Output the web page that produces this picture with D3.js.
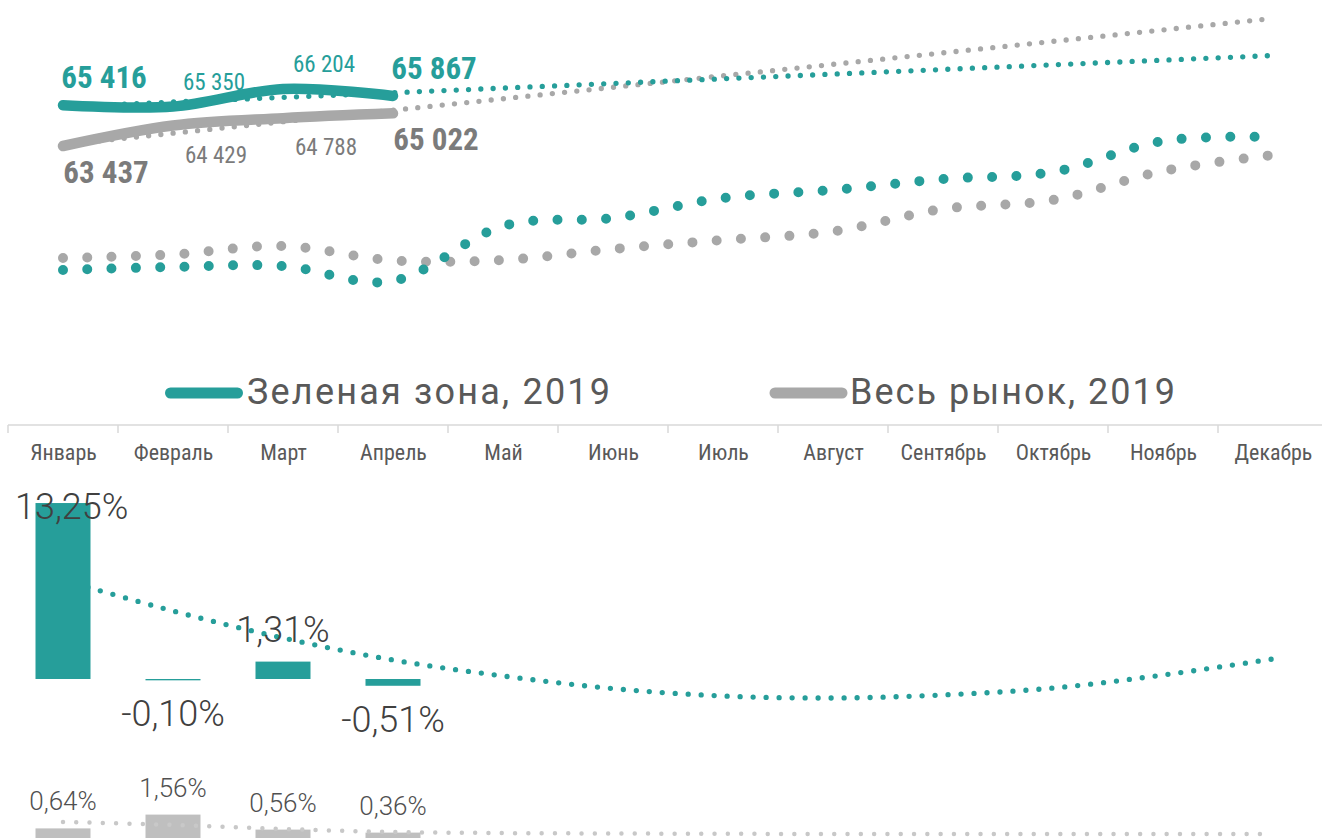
<!DOCTYPE html>
<html><head><meta charset="utf-8">
<script src="https://cdn.jsdelivr.net/npm/d3@7"></script>
<style>body{margin:0;background:#fff}svg{display:block}</style>
</head><body><svg id="chart" width="1322" height="840"></svg>
<script>
// ---------- data ----------
const months = ["Январь","Февраль","Март","Апрель","Май","Июнь","Июль","Август","Сентябрь","Октябрь","Ноябрь","Декабрь"];
const seriesNames = ["Зеленая зона, 2019","Весь рынок, 2019"];
const greenPrice = [65416, 65350, 66204, 65867];
const marketPrice = [63437, 64429, 64788, 65022];
const greenPriceTrend = [65345, 67830];   // Январь, Декабрь
const marketPriceTrend = [63500, 69631];  // Январь, Декабрь
const greenIndex = [20, 21.5, 22, 14.5, 42, 46, 56, 60, 65.5, 69, 84.5, 86.5];
const marketIndex = [26, 27.75, 32, 24.75, 25, 30.5, 35, 39.25, 50.5, 55, 69.5, 77.5];
const greenChange = [13.25, -0.10, 1.31, -0.51];
const marketChange = [0.64, 1.56, 0.56, 0.36];
const greenChangeTrend = [7.45, 5.12, 3.09, 1.43, 0.23, -0.72, -1.28, -1.43, -1.2, -0.68, 0.30, 1.51];
const marketChangeTrend = [1.07, 0.87, 0.6, 0.4, 0.33, 0.3, 0.28, 0.27, 0.27, 0.27, 0.27, 0.27];

// ---------- setup ----------
const TEAL = "#269E9A", GRAY = "#A8A8A8", BARGRAY = "#BFBFBF";
const NARROW = "'Liberation Sans Narrow','Roboto Condensed','DejaVu Sans Condensed','Liberation Sans',sans-serif";
const svg = d3.select("#chart");
const loc = d3.formatLocale({decimal: ",", thousands: " ", grouping: [3], currency: ["", ""], minus: "-"});
const fmtNum = loc.format(",d");
const fmtPct = v => loc.format(".2f")(v) + "%";

const x = d3.scalePoint().domain(months).range([8, 1328]).padding(0.5);
const xb = d3.scaleBand().domain(months).range([8, 1328]);
const yTop = d3.scaleLinear().domain([60000, 70000]).range([216.8, 10.8]);
const yMid = d3.scaleLinear().domain([0, 100]).range([310, 110]);
const yBar = d3.scaleLinear().domain([0, 10]).range([679, 546.2]);
const yBar2 = d3.scaleLinear().domain([0, 1]).range([838, 823]);
const smooth = d3.curveCardinal.tension(0);

function path(data, yf, color, w, dash) {
  const p = svg.append("path").datum(data)
    .attr("d", d3.line().x(d => x(d[0])).y(d => yf(d[1])).curve(smooth))
    .attr("fill", "none").attr("stroke", color).attr("stroke-width", w)
    .attr("stroke-linecap", "round").attr("stroke-linejoin", "round");
  if (dash) p.attr("stroke-dasharray", `0 ${dash}`);
  return p;
}
const pairs = arr => arr.map((v, i) => [months[i], v]);
const endPairs = arr => [[months[0], arr[0]], [months[months.length - 1], arr[1]]];

// ---------- top: price lines ----------
path(endPairs(marketPriceTrend), yTop, GRAY, 5.3, 12.3);
path(endPairs(greenPriceTrend), yTop, TEAL, 5.3, 12.3);
path(pairs(marketPrice), yTop, GRAY, 10.5);
path(pairs(greenPrice), yTop, TEAL, 10.5);

function priceLabels(arr, color, dy, dx) {
  arr.forEach((v, i) => {
    const edge = i === 0 || i === arr.length - 1;
    svg.append("text").attr("x", x(months[i]) + dx).attr("y", yTop(v) + dy)
      .attr("text-anchor", "middle").attr("fill", color)
      .style("font-family", NARROW).style("font-size", edge ? "31px" : "23px")
      .style("font-weight", edge ? "bold" : "normal").text(fmtNum(v));
  });
}
priceLabels(greenPrice, TEAL, -17, 41);
priceLabels(marketPrice, "#7B7B7B", 37, 43);

// ---------- middle: index lines ----------
path(pairs(marketIndex), yMid, GRAY, 10, 24.3);
path(pairs(greenIndex), yMid, TEAL, 10, 24.3);

// ---------- legend ----------
const legend = [
  {name: seriesNames[0], color: TEAL, x0: 170.5, x1: 237.5, tx: 247, tl: 363},
  {name: seriesNames[1], color: GRAY, x0: 775, x1: 842, tx: 850, tl: 325}
];
legend.forEach(l => {
  svg.append("line").attr("x1", l.x0).attr("x2", l.x1).attr("y1", 393).attr("y2", 393)
    .attr("stroke", l.color).attr("stroke-width", 11).attr("stroke-linecap", "round");
  svg.append("text").attr("x", l.tx).attr("y", 404).attr("fill", "#595959")
    .attr("textLength", l.tl).attr("lengthAdjust", "spacing")
    .style("font-family", "Roboto,sans-serif").style("font-size", "36px").text(l.name);
});

// ---------- axis ----------
const axisY = 425;
svg.append("line").attr("x1", 8).attr("x2", 1328).attr("y1", axisY).attr("y2", axisY)
  .attr("stroke", "#D9D9D9").attr("stroke-width", 1.5);
svg.selectAll(".tickb").data(months).enter().append("line")
  .attr("x1", d => xb(d)).attr("x2", d => xb(d)).attr("y1", axisY).attr("y2", axisY + 8)
  .attr("stroke", "#D9D9D9").attr("stroke-width", 1.5);
const ax = svg.append("g").attr("transform", `translate(0,${axisY})`)
  .call(d3.axisBottom(x).tickSize(0).tickPadding(19.5));
ax.select(".domain").remove();
ax.selectAll("text").attr("fill", "#595959").style("font-family", NARROW).style("font-size", "22px");

// ---------- bottom: change bars ----------
path(pairs(greenChangeTrend), yBar, TEAL, 5.3, 13);
const bw = xb.bandwidth() / 2;
svg.selectAll(".gbar").data(greenChange).enter().append("rect")
  .attr("x", (d, i) => x(months[i]) - bw / 2).attr("width", bw)
  .attr("y", d => Math.min(yBar(d), yBar(0))).attr("height", d => Math.abs(yBar(d) - yBar(0)))
  .attr("fill", TEAL);
greenChange.forEach((v, i) => {
  const t = svg.append("text").attr("text-anchor", "middle").attr("fill", "#404040")
    .style("font-family", "Roboto,sans-serif").style("font-weight", 300).style("font-size", "36px")
    .attr("y", v >= 0 ? Math.max(yBar(v) - 20, 519) : yBar(v) + 46).text(fmtPct(v));
  const w = t.node().getComputedTextLength();
  t.attr("x", Math.max(x(months[i]), 15 + w / 2));
});

svg.selectAll(".mbar").data(marketChange).enter().append("rect")
  .attr("x", (d, i) => x(months[i]) - bw / 2).attr("width", bw)
  .attr("y", d => yBar2(d)).attr("height", d => yBar2(0) - yBar2(d))
  .attr("fill", BARGRAY);
path(pairs(marketChangeTrend), yBar2, "#C8C8C8", 4.5, 13.3);
marketChange.forEach((v, i) => {
  svg.append("text").attr("text-anchor", "middle").attr("fill", "#505050")
    .style("font-family", "Roboto,sans-serif").style("font-weight", 300).style("font-size", "26px")
    .attr("x", x(months[i])).attr("y", yBar2(v) - 18).text(fmtPct(v));
});
</script></body></html>
